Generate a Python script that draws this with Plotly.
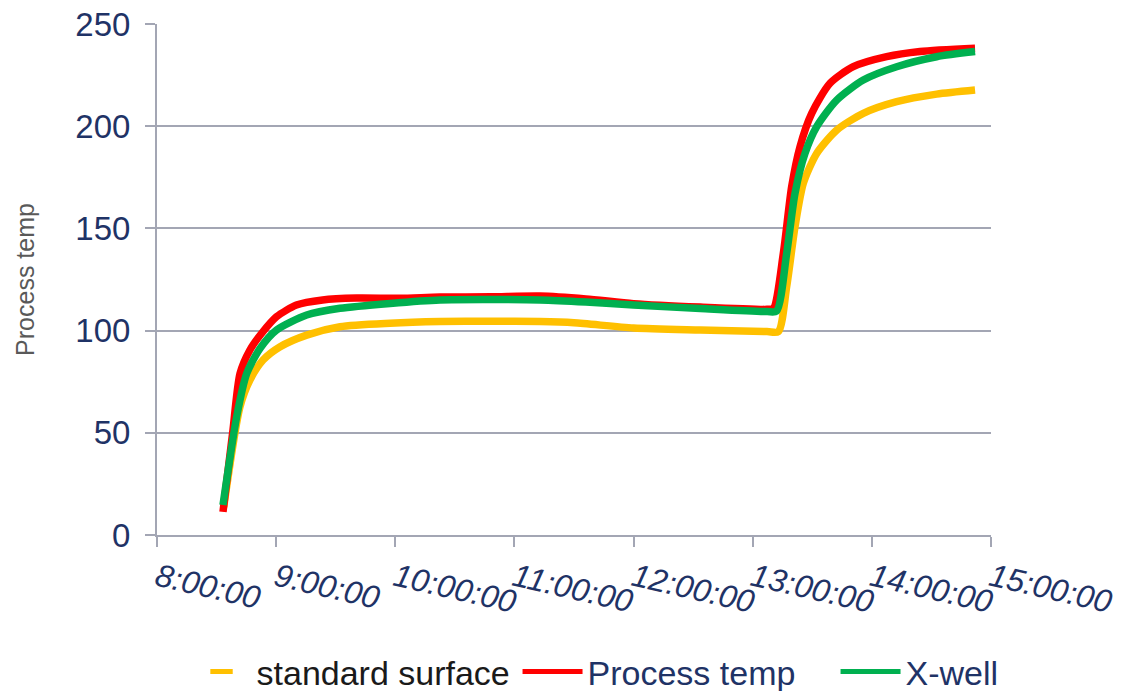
import plotly.graph_objects as go

# Temperature logs (time of day, degrees)
surface_time = ["08:33:36", "08:41:49", "08:46:48", "08:53:24", "09:01:48", "09:15:22",
                "09:32:10", "09:57:22", "10:22:30", "10:48:00", "11:12:54", "11:30:00",
                "12:00:00", "12:33:36", "13:07:12", "13:12:54", "13:17:06", "13:21:18",
                "13:25:30", "13:32:13", "13:42:18", "13:55:41", "14:12:29", "14:32:38",
                "14:51:58"]
surface_temp = [13.7, 62.8, 75.8, 85.6, 92.0, 97.8,
                101.9, 103.6, 104.4, 104.6, 104.4, 103.8,
                101.3, 100.3, 99.5, 99.5, 121.5, 150.8,
                172.1, 186.7, 198.1, 206.3, 212.0, 215.7,
                217.7]

process_time = ["08:33:14", "08:38:06", "08:41:49", "08:46:48", "08:52:44", "09:00:14",
                "09:10:12", "09:23:24", "09:40:34", "10:02:24", "10:22:30", "10:48:00",
                "11:12:54", "11:36:00", "12:00:00", "12:33:36", "13:07:12", "13:10:23",
                "13:15:25", "13:19:37", "13:23:49", "13:29:42", "13:38:56", "13:50:38",
                "14:07:26", "14:24:14", "14:51:58"]
process_temp = [11.3, 50.0, 79.0, 90.5, 98.7, 106.8,
                112.5, 115.0, 115.9, 115.8, 116.4, 116.5,
                116.9, 115.5, 113.2, 111.5, 110.4, 110.8,
                137.8, 170.4, 190.0, 206.3, 221.0, 229.1,
                234.0, 236.5, 238.1]

xwell_time = ["08:33:14", "08:40:08", "08:45:11", "08:51:54", "09:00:14", "09:15:22",
              "09:32:10", "09:57:22", "10:22:30", "11:12:54", "11:36:00", "12:00:00",
              "12:33:36", "13:07:12", "13:12:00", "13:17:06", "13:21:18", "13:26:20",
              "13:32:13", "13:42:18", "13:55:41", "14:12:29", "14:32:38", "14:51:58"]
xwell_temp = [14.7, 57.9, 79.0, 91.3, 100.3, 107.6,
              110.9, 113.3, 115.0, 115.0, 114.0, 112.5,
              110.8, 109.3, 109.5, 137.8, 167.2, 186.7,
              199.8, 212.8, 222.6, 229.1, 234.0, 236.5]

DAY = "2000-01-01 "
NAVY = "#1f3366"
GRID = "#a3a6b4"
FONT = "Liberation Sans, Arial, sans-serif"
YELLOW, RED, GREEN = "#ffc000", "#ff0000", "#00b050"


def stamps(times):
    return [DAY + t for t in times]


fig = go.Figure()

curve = dict(mode="lines", showlegend=False, hoverinfo="x+y")
fig.add_trace(go.Scatter(x=stamps(surface_time), y=surface_temp,
                         line=dict(color=YELLOW, width=7.5, shape="spline", smoothing=0.7), **curve))
fig.add_trace(go.Scatter(x=stamps(process_time), y=process_temp,
                         line=dict(color=RED, width=7.5, shape="spline", smoothing=0.7), **curve))
fig.add_trace(go.Scatter(x=stamps(xwell_time), y=xwell_temp,
                         line=dict(color=GREEN, width=7.5, shape="spline", smoothing=0.7), **curve))

# legend keys, one legend box each
fig.add_trace(go.Scatter(
    x=[None], y=[None], mode="markers", legend="legend",
    marker=dict(symbol="line-ew", size=18, line=dict(color=YELLOW, width=5)),
    name="<span style='color:#1a1a1a'>standard surface</span>"))
fig.add_trace(go.Scatter(
    x=[None], y=[None], mode="lines", legend="legend2",
    line=dict(color=RED, width=5), name="Process temp"))
fig.add_trace(go.Scatter(
    x=[None], y=[None], mode="lines", legend="legend3",
    line=dict(color=GREEN, width=5), name="X-well"))


def legend_box(x):
    return dict(orientation="h", x=x, xanchor="left", y=-0.268, yanchor="middle",
                font=dict(size=34, color=NAVY, family=FONT), itemwidth=60,
                bgcolor="rgba(0,0,0,0)")


fig.update_layout(
    width=1125, height=691,
    margin=dict(l=157, r=134, t=24, b=156, autoexpand=False),
    paper_bgcolor="white", plot_bgcolor="white",
    font=dict(family=FONT, color=NAVY),
    showlegend=True,
    legend=legend_box(0.0354),
    legend2=legend_box(0.4323),
    legend3=legend_box(0.8136),
    xaxis=dict(
        type="date",
        range=[DAY + "08:00:00", DAY + "15:00:00"],
        dtick=3600000, tick0=DAY + "08:00:00",
        tickformat="%-H:%M:%S", tickangle=13,
        tickfont=dict(size=32, color=NAVY, style="italic"),
        showgrid=False, showline=True, linecolor=GRID, linewidth=2,
        ticks="outside", ticklen=10, tickwidth=2, tickcolor=GRID,
        zeroline=False),
    yaxis=dict(
        range=[0, 250], dtick=50,
        tickfont=dict(size=33, color=NAVY),
        ticklabelstandoff=8,
        showgrid=True, gridcolor=GRID, gridwidth=2,
        showline=True, linecolor=GRID, linewidth=2,
        ticks="outside", ticklen=10, tickwidth=2, tickcolor=GRID,
        zeroline=False,
        title=dict(text="Process temp", font=dict(size=25, color="#595959"), standoff=34)),
)

fig.write_html("out.html")
